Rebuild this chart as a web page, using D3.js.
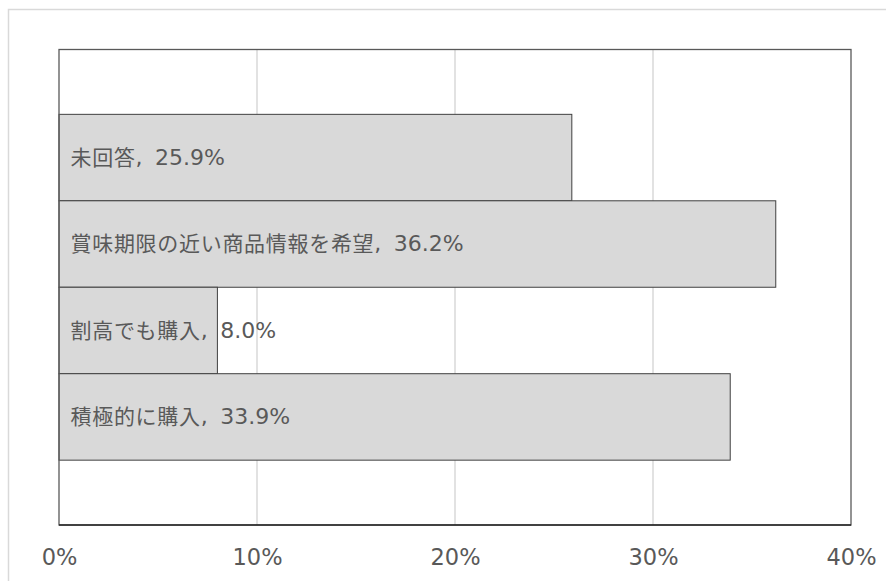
<!DOCTYPE html>
<html>
<head>
<meta charset="utf-8">
<script src="https://cdn.jsdelivr.net/npm/d3@7"></script>
<style>
  html, body { margin: 0; padding: 0; background: #fff; }
  svg { display: block; }
</style>
</head>
<body>
<svg id="chart" width="886" height="581"></svg>
<script>
// Response categories, top to bottom
const categories = ["未回答", "賞味期限の近い商品情報を希望", "割高でも購入", "積極的に購入"];
// Share of respondents (%)
const values = [25.9, 36.2, 8.0, 33.9];
// Axis ticks (%)
const tickValues = [0, 10, 20, 30, 40];

const svg = d3.select("#chart");
const W = 886, H = 581;
const plot = { left: 59, right: 851, top: 49.5, bottom: 525 };
const latinFont = "'DejaVu Sans', Verdana, sans-serif";
const cjkFont = "'Noto Sans CJK JP', 'Noto Sans', sans-serif";

// Outer chart frame
svg.append("rect")
  .attr("x", 8.5).attr("y", 9.5)
  .attr("width", W + 10).attr("height", H + 10)
  .attr("fill", "#fff")
  .attr("stroke", "#d9d9d9").attr("stroke-width", 1.5);

const x = d3.scaleLinear().domain([0, 40]).range([plot.left, plot.right]);
const y = d3.scaleBand().domain(categories)
  .range([plot.top, plot.bottom])
  .paddingInner(0).paddingOuter(0.75);

// Vertical gridlines
svg.append("g")
  .selectAll("line")
  .data(tickValues.filter(t => t > 0 && t < 40))
  .join("line")
  .attr("x1", d => x(d)).attr("x2", d => x(d))
  .attr("y1", plot.top).attr("y2", plot.bottom)
  .attr("stroke", "#d9d9d9").attr("stroke-width", 1.5);

// Bars
svg.append("g")
  .selectAll("rect")
  .data(categories)
  .join("rect")
  .attr("x", x(0))
  .attr("y", d => y(d))
  .attr("width", (d, i) => x(values[i]) - x(0))
  .attr("height", y.bandwidth())
  .attr("fill", "#d9d9d9")
  .attr("stroke", "#404040").attr("stroke-width", 1);

// Plot frame
svg.append("rect")
  .attr("x", plot.left).attr("y", plot.top)
  .attr("width", plot.right - plot.left).attr("height", plot.bottom - plot.top)
  .attr("fill", "none")
  .attr("stroke", "#595959").attr("stroke-width", 1.3);
svg.append("line")
  .attr("x1", plot.left).attr("x2", plot.right)
  .attr("y1", plot.bottom).attr("y2", plot.bottom)
  .attr("stroke", "#262626").attr("stroke-width", 1.3);

// Bottom axis labels
const axis = d3.axisBottom(x)
  .tickValues(tickValues)
  .tickSize(0).tickPadding(0)
  .tickFormat(d => d + "%");
const gx = svg.append("g")
  .attr("transform", `translate(0,${plot.bottom})`)
  .call(axis);
gx.select(".domain").remove();
gx.selectAll("text")
  .attr("y", 32).attr("dy", "0.36em")
  .attr("fill", "#595959")
  .style("font-family", latinFont)
  .style("font-size", "22.5px");

// Data labels inside the bars: category name, comma, value
const labels = svg.append("g")
  .selectAll("text")
  .data(categories)
  .join("text")
  .attr("x", 70.5)
  .attr("y", d => y(d) + y.bandwidth() / 2 + 1.5)
  .attr("dy", "0.35em")
  .attr("fill", "#595959");
labels.append("tspan")
  .style("font-family", cjkFont)
  .style("font-size", "21px")
  .style("letter-spacing", "0.7px")
  .text(d => d);
labels.append("tspan")
  .style("font-family", latinFont)
  .style("font-size", "22px")
  .text(",");
labels.append("tspan")
  .attr("dx", 12.5)
  .style("font-family", latinFont)
  .style("font-size", "22px")
  .text((d, i) => `${values[i].toFixed(1)}%`);
</script>
</body>
</html>
